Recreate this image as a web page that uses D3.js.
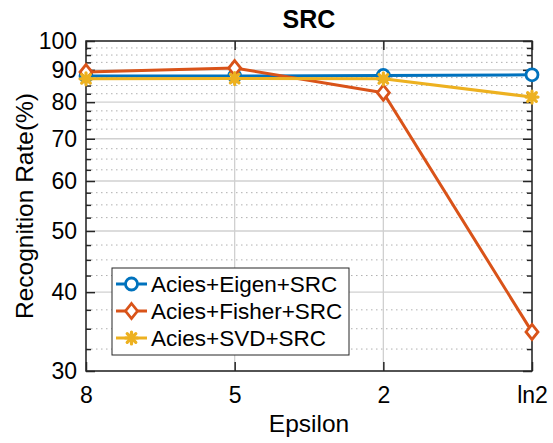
<!DOCTYPE html>
<html>
<head>
<meta charset="utf-8">
<script src="https://cdn.jsdelivr.net/npm/d3@7"></script>
<style>
  body { margin: 0; background: #fff; }
  text { font-family: "Liberation Sans", Arial, sans-serif; fill: #000; }
</style>
</head>
<body>
<div id="chart"></div>
<script>
// data
var categories = ["8", "5", "2", "ln2"];
var eigen  = [88.0, 88.0, 88.2, 88.4];
var fisher = [89.3, 90.6, 82.8, 34.6];
var svd    = [87.1, 87.2, 87.1, 81.5];
var yTicks = [30, 40, 50, 60, 70, 80, 90, 100];
var yMinor = [32.5, 35, 37.5, 42.5, 45, 47.5, 52.5, 55, 57.5, 62.5, 65, 67.5,
              72.5, 75, 77.5, 82.5, 85, 87.5, 92.5, 95, 97.5];
var seriesNames = ["Acies+Eigen+SRC", "Acies+Fisher+SRC", "Acies+SVD+SRC"];

var W = 553, H = 443;
var box = { left: 86, right: 532, top: 41, bottom: 371 };

var series = [
  { name: seriesNames[0], values: eigen,  color: "#0072BD", marker: "circle" },
  { name: seriesNames[1], values: fisher, color: "#D95319", marker: "diamond" },
  { name: seriesNames[2], values: svd,    color: "#EDB120", marker: "star" }
];

var svg = d3.select("#chart").append("svg")
            .attr("width", W).attr("height", H);

var x = d3.scalePoint().domain(categories).range([box.left, box.right]).padding(0);
var y = d3.scaleLog().domain([30, 100]).range([box.bottom, box.top]);

// grid
var grid = svg.append("g");
grid.selectAll(".minor").data(yMinor).enter().append("line")
    .attr("x1", box.left).attr("x2", box.right)
    .attr("y1", function(d){ return y(d); }).attr("y2", function(d){ return y(d); })
    .attr("stroke", "#b0b0b0").attr("stroke-width", 1)
    .attr("stroke-dasharray", "1.5,3.5");
grid.selectAll(".major").data(yTicks).enter().append("line")
    .attr("x1", box.left).attr("x2", box.right)
    .attr("y1", function(d){ return y(d); }).attr("y2", function(d){ return y(d); })
    .attr("stroke", "#d0d0d0").attr("stroke-width", 1.3);
grid.selectAll(".vmajor").data(categories).enter().append("line")
    .attr("y1", box.top).attr("y2", box.bottom)
    .attr("x1", function(d){ return x(d); }).attr("x2", function(d){ return x(d); })
    .attr("stroke", "#d0d0d0").attr("stroke-width", 1.3);

// axes
function styleAxis(g) {
  g.select(".domain").remove();
  g.selectAll("line").attr("stroke", "#262626").attr("stroke-width", 1.5);
  g.selectAll("text").style("font-size", "23px")
   .style("font-family", '"Liberation Sans", Arial, sans-serif').attr("fill", "#000");
}

svg.append("g").attr("transform", "translate(" + box.left + ",0)")
   .call(d3.axisLeft(y).tickValues(yTicks).tickFormat(d3.format("d"))
          .tickSizeInner(-9).tickSizeOuter(0).tickPadding(9))
   .call(styleAxis);
svg.append("g").attr("transform", "translate(" + box.left + ",0)")
   .call(d3.axisLeft(y).tickValues(yMinor).tickFormat("").tickSizeInner(-5).tickSizeOuter(0))
   .call(styleAxis);
svg.append("g").attr("transform", "translate(" + box.right + ",0)")
   .call(d3.axisRight(y).tickValues(yTicks).tickFormat("").tickSizeInner(-9).tickSizeOuter(0))
   .call(styleAxis);
svg.append("g").attr("transform", "translate(" + box.right + ",0)")
   .call(d3.axisRight(y).tickValues(yMinor).tickFormat("").tickSizeInner(-5).tickSizeOuter(0))
   .call(styleAxis);
svg.append("g").attr("transform", "translate(0," + box.bottom + ")")
   .call(d3.axisBottom(x).tickSizeInner(-9).tickSizeOuter(0).tickPadding(15.5))
   .call(styleAxis);
svg.append("g").attr("transform", "translate(0," + box.top + ")")
   .call(d3.axisTop(x).tickFormat("").tickSizeInner(-9).tickSizeOuter(0))
   .call(styleAxis);

svg.append("rect")
   .attr("x", box.left).attr("y", box.top)
   .attr("width", box.right - box.left).attr("height", box.bottom - box.top)
   .attr("fill", "none").attr("stroke", "#262626").attr("stroke-width", 1.5);

// markers
function drawMarker(g, type, cx, cy, color) {
  if (type == "circle") {
    g.append("circle").attr("cx", cx).attr("cy", cy).attr("r", 6)
     .attr("fill", "#fff").attr("stroke", color).attr("stroke-width", 2.8);
  } else if (type == "diamond") {
    var r = 7.5;
    g.append("path")
     .attr("d", "M" + cx + "," + (cy - r) + "L" + (cx + r * 0.8) + "," + cy +
                "L" + cx + "," + (cy + r) + "L" + (cx - r * 0.8) + "," + cy + "Z")
     .attr("fill", "#fff").attr("stroke", color).attr("stroke-width", 2.8);
  } else {
    var s = 6, d = s * 0.72;
    var p = "M" + (cx - s) + "," + cy + "L" + (cx + s) + "," + cy +
            "M" + cx + "," + (cy - s) + "L" + cx + "," + (cy + s) +
            "M" + (cx - d) + "," + (cy - d) + "L" + (cx + d) + "," + (cy + d) +
            "M" + (cx - d) + "," + (cy + d) + "L" + (cx + d) + "," + (cy - d);
    g.append("path").attr("d", p).attr("fill", "none")
     .attr("stroke", color).attr("stroke-width", 3.2).attr("stroke-linecap", "round");
  }
}

var line = d3.line()
  .x(function(d, i){ return x(categories[i]); })
  .y(function(d){ return y(d); });

series.forEach(function(s) {
  var g = svg.append("g");
  g.append("path").attr("d", line(s.values))
   .attr("fill", "none").attr("stroke", s.color).attr("stroke-width", 3)
   .attr("stroke-linejoin", "round");
  s.values.forEach(function(v, i) {
    drawMarker(g, s.marker, x(categories[i]), y(v), s.color);
  });
});

// legend
var leg = svg.append("g");
leg.append("rect").attr("x", 112).attr("y", 268).attr("width", 237).attr("height", 87)
   .attr("fill", "#fff").attr("stroke", "#262626").attr("stroke-width", 1);
series.forEach(function(s, i) {
  var cy = 284 + i * 27;
  leg.append("line").attr("x1", 116).attr("x2", 147).attr("y1", cy).attr("y2", cy)
     .attr("stroke", s.color).attr("stroke-width", 3);
  drawMarker(leg, s.marker, 131.5, cy, s.color);
  leg.append("text").attr("x", 151).attr("y", cy + 8)
     .style("font-size", "22.5px").text(s.name);
});

// titles
svg.append("text").attr("x", (box.left + box.right) / 2).attr("y", 28)
   .attr("text-anchor", "middle").style("font-size", "25px").style("font-weight", "bold")
   .text("SRC");
svg.append("text").attr("x", (box.left + box.right) / 2).attr("y", 432)
   .attr("text-anchor", "middle").style("font-size", "24.5px").text("Epsilon");
svg.append("text")
   .attr("transform", "translate(33," + ((box.top + box.bottom) / 2) + ") rotate(-90)")
   .attr("text-anchor", "middle").style("font-size", "24.5px").text("Recognition Rate(%)");
</script>
</body>
</html>
